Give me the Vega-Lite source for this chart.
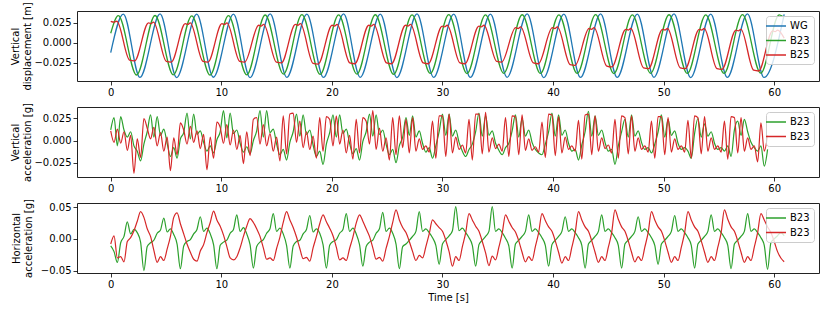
{
"$schema": "https://vega.github.io/schema/vega-lite/v6.json",
"background": "white",
"padding": {"left": 10, "top": 1, "right": 6, "bottom": 6},
"spacing": 26,
"bounds": "flush",
"config": {
 "font": "DejaVu Sans",
 "view": {"stroke": "#222222", "strokeWidth": 1},
 "axis": {"labelFont": "DejaVu Sans", "labelFontSize": 10, "labelColor": "black", "titleFont": "DejaVu Sans", "titleFontSize": 10, "titleFontWeight": "normal", "titleColor": "black", "tickColor": "black", "tickSize": 4, "tickWidth": 0.8, "labelPadding": 2, "domain": false, "grid": false, "titleLineHeight": 12},
 "legend": {"orient": "top-right", "offset": 5, "title": null, "symbolType": "M-2,0H2", "symbolSize": 100, "symbolStrokeWidth": 1.5, "labelFont": "DejaVu Sans", "labelFontSize": 10, "labelColor": "black", "fillColor": "rgba(255,255,255,0.8)", "strokeColor": "#cccccc", "cornerRadius": 3, "padding": 4, "rowPadding": 3.5, "labelOffset": 8}
},
"datasets": {
"top": [
{"s":"WG","t":0,"v":-0.012},{"s":"WG","t":1.14,"v":0.036},{"s":"WG","t":2.64,"v":-0.043},{"s":"WG","t":4.46,"v":0.0362},{"s":"WG","t":5.96,"v":-0.0432},{"s":"WG","t":7.78,"v":0.0358},{"s":"WG","t":9.28,"v":-0.0428},{"s":"WG","t":11.1,"v":0.036},{"s":"WG","t":12.6,"v":-0.0433},{"s":"WG","t":14.42,"v":0.0362},{"s":"WG","t":15.92,"v":-0.043},{"s":"WG","t":17.74,"v":0.0359},{"s":"WG","t":19.24,"v":-0.0431},{"s":"WG","t":21.06,"v":0.0361},{"s":"WG","t":22.56,"v":-0.0429},{"s":"WG","t":24.38,"v":0.036},{"s":"WG","t":25.88,"v":-0.0432},{"s":"WG","t":27.7,"v":0.0362},{"s":"WG","t":29.2,"v":-0.043},{"s":"WG","t":31.02,"v":0.0358},{"s":"WG","t":32.52,"v":-0.0431},{"s":"WG","t":34.34,"v":0.036},{"s":"WG","t":35.84,"v":-0.0429},{"s":"WG","t":37.66,"v":0.0361},{"s":"WG","t":39.16,"v":-0.0432},{"s":"WG","t":40.98,"v":0.0359},{"s":"WG","t":42.48,"v":-0.043},{"s":"WG","t":44.3,"v":0.0361},{"s":"WG","t":45.8,"v":-0.0431},{"s":"WG","t":47.62,"v":0.036},{"s":"WG","t":49.12,"v":-0.0429},{"s":"WG","t":50.94,"v":0.0362},{"s":"WG","t":52.44,"v":-0.0432},{"s":"WG","t":54.26,"v":0.0359},{"s":"WG","t":55.76,"v":-0.043},{"s":"WG","t":57.58,"v":0.0361},{"s":"WG","t":59.08,"v":-0.0431},{"s":"WG","t":60.9,"v":0.0355},
{"s":"B23","t":0,"v":0.012},{"s":"B23","t":0.69,"v":0.034},{"s":"B23","t":2.34,"v":-0.04},{"s":"B23","t":4.01,"v":0.0342},{"s":"B23","t":5.66,"v":-0.0398},{"s":"B23","t":7.33,"v":0.0338},{"s":"B23","t":8.98,"v":-0.0401},{"s":"B23","t":10.65,"v":0.0341},{"s":"B23","t":12.3,"v":-0.0399},{"s":"B23","t":13.97,"v":0.0348},{"s":"B23","t":15.62,"v":-0.039},{"s":"B23","t":17.29,"v":0.0352},{"s":"B23","t":18.94,"v":-0.0392},{"s":"B23","t":20.61,"v":0.0349},{"s":"B23","t":22.26,"v":-0.0389},{"s":"B23","t":23.93,"v":0.0351},{"s":"B23","t":25.58,"v":-0.0391},{"s":"B23","t":27.25,"v":0.035},{"s":"B23","t":28.9,"v":-0.038},{"s":"B23","t":30.57,"v":0.0352},{"s":"B23","t":32.22,"v":-0.0382},{"s":"B23","t":33.89,"v":0.0349},{"s":"B23","t":35.54,"v":-0.0379},{"s":"B23","t":37.21,"v":0.0351},{"s":"B23","t":38.86,"v":-0.0381},{"s":"B23","t":40.53,"v":0.035},{"s":"B23","t":42.18,"v":-0.038},{"s":"B23","t":43.85,"v":0.0352},{"s":"B23","t":45.5,"v":-0.0382},{"s":"B23","t":47.17,"v":0.0349},{"s":"B23","t":48.82,"v":-0.0379},{"s":"B23","t":50.49,"v":0.0351},{"s":"B23","t":52.14,"v":-0.0381},{"s":"B23","t":53.81,"v":0.035},{"s":"B23","t":55.46,"v":-0.038},{"s":"B23","t":57.13,"v":0.0352},{"s":"B23","t":58.78,"v":-0.0378},{"s":"B23","t":60.45,"v":0.035},{"s":"B23","t":60.9,"v":0.032},
{"s":"B25","t":0,"v":0.027},{"s":"B25","t":0.32,"v":0.026},{"s":"B25","t":0.55,"v":0.027},{"s":"B25","t":1.7,"v":-0.0215},{"s":"B25","t":2.15,"v":-0.0225},
{"s":"B25","t":3.42,"v":0.025},{"s":"B25","t":3.64,"v":0.024},{"s":"B25","t":3.87,"v":0.026},{"s":"B25","t":5.02,"v":-0.023},{"s":"B25","t":5.47,"v":-0.024},
{"s":"B25","t":6.74,"v":0.024},{"s":"B25","t":6.96,"v":0.023},{"s":"B25","t":7.19,"v":0.025},{"s":"B25","t":8.34,"v":-0.023},{"s":"B25","t":8.79,"v":-0.024},
{"s":"B25","t":10.06,"v":0.024},{"s":"B25","t":10.28,"v":0.023},{"s":"B25","t":10.51,"v":0.025},{"s":"B25","t":11.66,"v":-0.023},{"s":"B25","t":12.11,"v":-0.024},
{"s":"B25","t":13.38,"v":0.022},{"s":"B25","t":13.6,"v":0.021},{"s":"B25","t":13.83,"v":0.023},{"s":"B25","t":14.98,"v":-0.024},{"s":"B25","t":15.43,"v":-0.025},
{"s":"B25","t":16.7,"v":0.023},{"s":"B25","t":16.92,"v":0.022},{"s":"B25","t":17.15,"v":0.024},{"s":"B25","t":18.3,"v":-0.0255},{"s":"B25","t":18.75,"v":-0.0265},
{"s":"B25","t":20.02,"v":0.022},{"s":"B25","t":20.24,"v":0.021},{"s":"B25","t":20.47,"v":0.023},{"s":"B25","t":21.62,"v":-0.025},{"s":"B25","t":22.07,"v":-0.026},
{"s":"B25","t":23.34,"v":0.022},{"s":"B25","t":23.56,"v":0.021},{"s":"B25","t":23.79,"v":0.023},{"s":"B25","t":24.94,"v":-0.025},{"s":"B25","t":25.39,"v":-0.026},
{"s":"B25","t":26.66,"v":0.022},{"s":"B25","t":26.88,"v":0.021},{"s":"B25","t":27.11,"v":0.023},{"s":"B25","t":28.26,"v":-0.025},{"s":"B25","t":28.71,"v":-0.026},
{"s":"B25","t":29.98,"v":0.021},{"s":"B25","t":30.2,"v":0.02},{"s":"B25","t":30.43,"v":0.022},{"s":"B25","t":31.58,"v":-0.025},{"s":"B25","t":32.03,"v":-0.026},
{"s":"B25","t":33.3,"v":0.021},{"s":"B25","t":33.52,"v":0.02},{"s":"B25","t":33.75,"v":0.022},{"s":"B25","t":34.9,"v":-0.023},{"s":"B25","t":35.35,"v":-0.024},
{"s":"B25","t":36.62,"v":0.019},{"s":"B25","t":36.84,"v":0.018},{"s":"B25","t":37.07,"v":0.02},{"s":"B25","t":38.22,"v":-0.025},{"s":"B25","t":38.67,"v":-0.026},
{"s":"B25","t":39.94,"v":0.019},{"s":"B25","t":40.16,"v":0.018},{"s":"B25","t":40.39,"v":0.02},{"s":"B25","t":41.54,"v":-0.027},{"s":"B25","t":41.99,"v":-0.028},
{"s":"B25","t":43.26,"v":0.018},{"s":"B25","t":43.48,"v":0.017},{"s":"B25","t":43.71,"v":0.019},{"s":"B25","t":44.86,"v":-0.029},{"s":"B25","t":45.31,"v":-0.03},
{"s":"B25","t":46.58,"v":0.017},{"s":"B25","t":46.8,"v":0.016},{"s":"B25","t":47.03,"v":0.018},{"s":"B25","t":48.18,"v":-0.031},{"s":"B25","t":48.63,"v":-0.032},
{"s":"B25","t":49.9,"v":0.017},{"s":"B25","t":50.12,"v":0.016},{"s":"B25","t":50.35,"v":0.018},{"s":"B25","t":51.5,"v":-0.031},{"s":"B25","t":51.95,"v":-0.032},
{"s":"B25","t":53.22,"v":0.017},{"s":"B25","t":53.44,"v":0.016},{"s":"B25","t":53.67,"v":0.018},{"s":"B25","t":54.82,"v":-0.032},{"s":"B25","t":55.27,"v":-0.033},
{"s":"B25","t":56.54,"v":0.016},{"s":"B25","t":56.76,"v":0.015},{"s":"B25","t":56.99,"v":0.017},{"s":"B25","t":58.14,"v":-0.034},{"s":"B25","t":58.59,"v":-0.035},
{"s":"B25","t":59.86,"v":0.015},{"s":"B25","t":60.08,"v":0.014},{"s":"B25","t":60.31,"v":0.016},{"s":"B25","t":60.9,"v":0.006}
],
"acc": [
{"t":0,"a":0.012,"b":0.011,"c":-0.011,"d":-0.008},
{"t":0.3,"a":0.026,"b":-0.002,"c":-0.02,"d":0.005},
{"t":0.6,"a":-0.006,"b":0.013,"c":-0.037,"d":-0.03},
{"t":0.9,"a":0.027,"b":-0.003,"c":-0.006,"d":-0.028},
{"t":1.2,"a":0.012,"b":0.01,"c":0.004,"d":-0.036},
{"t":1.5,"a":0.004,"b":-0.011,"c":0.027,"d":-0.004},
{"t":1.8,"a":0.01,"b":0.006,"c":0.008,"d":0.002},
{"t":2.1,"a":-0.006,"b":-0.037,"c":0.015,"d":0.013},
{"t":2.4,"a":-0.012,"b":0.002,"c":0.01,"d":0.028},
{"t":2.7,"a":-0.023,"b":-0.019,"c":-0.005,"d":0.043},
{"t":3,"a":-0.004,"b":0.025,"c":-0.05,"d":0.034},
{"t":3.3,"a":0.01,"b":0.014,"c":-0.012,"d":0.016},
{"t":3.6,"a":0.029,"b":0.002,"c":-0.006,"d":0.004},
{"t":3.9,"a":0.004,"b":0.015,"c":-0.002,"d":-0.018},
{"t":4.2,"a":0.027,"b":-0.006,"c":0.009,"d":-0.037},
{"t":4.5,"a":0.006,"b":0.009,"c":0.014,"d":-0.028},
{"t":4.8,"a":0.013,"b":-0.012,"c":0.033,"d":-0.034},
{"t":5.1,"a":-0.003,"b":0.004,"c":0.011,"d":-0.016},
{"t":5.4,"a":-0.018,"b":-0.034,"c":0.016,"d":0.004},
{"t":5.7,"a":-0.008,"b":0.003,"c":0.007,"d":0.034},
{"t":6,"a":-0.02,"b":-0.016,"c":-0.008,"d":0.041},
{"t":6.3,"a":0.002,"b":0.02,"c":-0.047,"d":0.024},
{"t":6.6,"a":0.009,"b":0.012,"c":-0.011,"d":0.008},
{"t":6.9,"a":0.031,"b":-0.004,"c":-0.004,"d":-0.008},
{"t":7.2,"a":0.002,"b":0.016,"c":-0.001,"d":-0.021},
{"t":7.5,"a":0.03,"b":-0.002,"c":0.008,"d":-0.032},
{"t":7.8,"a":0.007,"b":0.011,"c":0.015,"d":-0.035},
{"t":8.1,"a":0.011,"b":-0.009,"c":0.035,"d":-0.019},
{"t":8.4,"a":-0.002,"b":0.007,"c":0.012,"d":-0.009},
{"t":8.7,"a":-0.012,"b":-0.033,"c":0.017,"d":0.01},
{"t":9,"a":-0.006,"b":0.004,"c":0.008,"d":0.026},
{"t":9.3,"a":-0.014,"b":-0.02,"c":-0.009,"d":0.044},
{"t":9.6,"a":0.001,"b":0.021,"c":-0.047,"d":0.03},
{"t":9.9,"a":0.01,"b":0.015,"c":-0.01,"d":0.02},
{"t":10.2,"a":0.034,"b":-0.003,"c":-0.005,"d":0.006},
{"t":10.5,"a":0.003,"b":0.018,"c":-0.002,"d":-0.012},
{"t":10.8,"a":0.031,"b":-0.005,"c":0.009,"d":-0.03},
{"t":11.1,"a":0.008,"b":0.012,"c":0.015,"d":-0.033},
{"t":11.4,"a":0.012,"b":-0.01,"c":0.038,"d":-0.028},
{"t":11.7,"a":-0.003,"b":0.006,"c":0.012,"d":-0.014},
{"t":12,"a":-0.013,"b":-0.026,"c":0.018,"d":0.004},
{"t":12.3,"a":-0.007,"b":0.01,"c":0.008,"d":0.02},
{"t":12.6,"a":-0.015,"b":-0.017,"c":-0.009,"d":0.032},
{"t":12.9,"a":0,"b":0.024,"c":-0.046,"d":0.026},
{"t":13.2,"a":0.011,"b":0.026,"c":-0.012,"d":0.016},
{"t":13.5,"a":0.034,"b":-0.004,"c":-0.005,"d":0.004},
{"t":13.8,"a":0.004,"b":0.018,"c":-0.001,"d":-0.014},
{"t":14.1,"a":0.034,"b":-0.006,"c":0.009,"d":-0.032},
{"t":14.4,"a":0.009,"b":0.008,"c":0.016,"d":-0.03},
{"t":14.7,"a":0.013,"b":-0.012,"c":0.04,"d":-0.034},
{"t":15,"a":-0.004,"b":0.004,"c":0.012,"d":-0.015},
{"t":15.3,"a":-0.016,"b":-0.023,"c":0.017,"d":0.003},
{"t":15.6,"a":-0.01,"b":0.028,"c":0.008,"d":0.026},
{"t":15.9,"a":-0.022,"b":-0.015,"c":-0.01,"d":0.043},
{"t":16.2,"a":-0.002,"b":0.03,"c":-0.046,"d":0.03},
{"t":16.5,"a":0.01,"b":0.031,"c":-0.011,"d":0.018},
{"t":16.8,"a":0.03,"b":-0.002,"c":-0.004,"d":0.003},
{"t":17.1,"a":0.005,"b":0.022,"c":-0.002,"d":-0.015},
{"t":17.4,"a":0.029,"b":-0.008,"c":0.008,"d":-0.031},
{"t":17.7,"a":0.007,"b":0.01,"c":0.015,"d":-0.029},
{"t":18,"a":0.012,"b":-0.01,"c":0.037,"d":-0.035},
{"t":18.3,"a":-0.005,"b":0.005,"c":0.011,"d":-0.014},
{"t":18.6,"a":-0.018,"b":-0.02,"c":0.016,"d":0.004},
{"t":18.9,"a":-0.012,"b":0.026,"c":0.009,"d":0.024},
{"t":19.2,"a":-0.027,"b":-0.012,"c":-0.009,"d":0.038},
{"t":19.5,"a":-0.004,"b":0.027,"c":-0.046,"d":0.027},
{"t":19.8,"a":0.009,"b":0.024,"c":-0.01,"d":0.017},
{"t":20.1,"a":0.029,"b":-0.006,"c":-0.004,"d":0.005},
{"t":20.4,"a":0.004,"b":0.028,"c":-0.001,"d":-0.013},
{"t":20.7,"a":0.029,"b":-0.004,"c":0.009,"d":-0.033},
{"t":21,"a":0.008,"b":0.012,"c":0.015,"d":-0.03},
{"t":21.3,"a":0.013,"b":-0.014,"c":0.04,"d":-0.034},
{"t":21.6,"a":-0.003,"b":0.006,"c":0.012,"d":-0.015},
{"t":21.9,"a":-0.015,"b":-0.021,"c":0.017,"d":0.003},
{"t":22.2,"a":-0.009,"b":0.024,"c":0.008,"d":0.025},
{"t":22.5,"a":-0.022,"b":-0.014,"c":-0.009,"d":0.038},
{"t":22.8,"a":-0.001,"b":0.026,"c":-0.043,"d":0.028},
{"t":23.1,"a":0.01,"b":0.022,"c":-0.012,"d":0.016},
{"t":23.4,"a":0.03,"b":-0.004,"c":-0.005,"d":0.004},
{"t":23.7,"a":0.005,"b":0.034,"c":-0.002,"d":-0.014},
{"t":24,"a":0.029,"b":-0.01,"c":0.009,"d":-0.032},
{"t":24.3,"a":0.007,"b":0.014,"c":0.016,"d":-0.029},
{"t":24.6,"a":0.012,"b":-0.012,"c":0.042,"d":-0.035},
{"t":24.9,"a":-0.004,"b":0.003,"c":0.012,"d":-0.015},
{"t":25.2,"a":-0.016,"b":-0.022,"c":0.017,"d":0.004},
{"t":25.5,"a":-0.01,"b":0.026,"c":0.009,"d":0.026},
{"t":25.8,"a":-0.025,"b":-0.016,"c":-0.008,"d":0.046},
{"t":26.1,"a":-0.006,"b":0.028,"c":-0.047,"d":0.03},
{"t":26.4,"a":0.004,"b":-0.008,"c":-0.012,"d":0.018},
{"t":26.7,"a":0.026,"b":0.024,"c":-0.008,"d":0.01},
{"t":27,"a":0.006,"b":-0.014,"c":-0.002,"d":-0.004},
{"t":27.3,"a":0.028,"b":0.026,"c":0.004,"d":-0.02},
{"t":27.6,"a":0.004,"b":-0.012,"c":0.012,"d":-0.034},
{"t":27.9,"a":0.011,"b":0.002,"c":0.043,"d":-0.026},
{"t":28.2,"a":-0.003,"b":-0.01,"c":0.012,"d":-0.03},
{"t":28.5,"a":-0.013,"b":-0.006,"c":0.016,"d":-0.012},
{"t":28.8,"a":-0.008,"b":-0.013,"c":0.01,"d":0.008},
{"t":29.1,"a":-0.02,"b":0.022,"c":0.002,"d":0.03},
{"t":29.4,"a":-0.006,"b":-0.02,"c":-0.01,"d":0.024},
{"t":29.7,"a":0.01,"b":0.028,"c":-0.04,"d":0.018},
{"t":30,"a":0.03,"b":0.028,"c":-0.008,"d":0.012},
{"t":30.3,"a":0.006,"b":-0.018,"c":-0.001,"d":-0.002},
{"t":30.6,"a":0.03,"b":0.03,"c":0.005,"d":-0.02},
{"t":30.9,"a":0.005,"b":-0.014,"c":0.013,"d":-0.043},
{"t":31.2,"a":0.012,"b":0.004,"c":0.051,"d":-0.028},
{"t":31.5,"a":-0.002,"b":-0.01,"c":0.013,"d":-0.034},
{"t":31.8,"a":-0.012,"b":-0.005,"c":0.017,"d":-0.012},
{"t":32.1,"a":-0.018,"b":-0.014,"c":0.01,"d":0.01},
{"t":32.4,"a":-0.01,"b":0.024,"c":0.002,"d":0.04},
{"t":32.7,"a":-0.004,"b":-0.022,"c":-0.01,"d":0.03},
{"t":33,"a":0.01,"b":0.03,"c":-0.043,"d":0.02},
{"t":33.3,"a":0.031,"b":0.03,"c":-0.009,"d":0.012},
{"t":33.6,"a":0.005,"b":-0.015,"c":-0.002,"d":-0.004},
{"t":33.9,"a":0.028,"b":0.032,"c":0.004,"d":-0.022},
{"t":34.2,"a":0.006,"b":-0.013,"c":0.012,"d":-0.042},
{"t":34.5,"a":0.011,"b":0.003,"c":0.051,"d":-0.027},
{"t":34.8,"a":-0.003,"b":-0.009,"c":0.012,"d":-0.033},
{"t":35.1,"a":-0.011,"b":-0.004,"c":0.016,"d":-0.013},
{"t":35.4,"a":-0.016,"b":-0.012,"c":0.01,"d":0.009},
{"t":35.7,"a":-0.008,"b":0.026,"c":0.001,"d":0.038},
{"t":36,"a":-0.003,"b":-0.018,"c":-0.011,"d":0.028},
{"t":36.3,"a":0.011,"b":0.028,"c":-0.046,"d":0.018},
{"t":36.6,"a":0.029,"b":0.027,"c":-0.008,"d":0.011},
{"t":36.9,"a":0.004,"b":-0.016,"c":-0.002,"d":-0.003},
{"t":37.2,"a":0.025,"b":0.029,"c":0.004,"d":-0.021},
{"t":37.5,"a":0.005,"b":-0.011,"c":0.012,"d":-0.036},
{"t":37.8,"a":0.012,"b":0.002,"c":0.038,"d":-0.028},
{"t":38.1,"a":-0.002,"b":-0.011,"c":0.012,"d":-0.034},
{"t":38.4,"a":-0.01,"b":-0.007,"c":0.016,"d":-0.012},
{"t":38.7,"a":-0.014,"b":-0.013,"c":0.01,"d":0.01},
{"t":39,"a":-0.016,"b":0.021,"c":0.002,"d":0.04},
{"t":39.3,"a":-0.004,"b":-0.019,"c":-0.01,"d":0.029},
{"t":39.6,"a":0.01,"b":0.03,"c":-0.043,"d":0.019},
{"t":39.9,"a":0.031,"b":0.029,"c":-0.009,"d":0.012},
{"t":40.2,"a":0.005,"b":-0.017,"c":-0.002,"d":-0.003},
{"t":40.5,"a":0.029,"b":0.027,"c":0.004,"d":-0.021},
{"t":40.8,"a":0.006,"b":-0.014,"c":0.012,"d":-0.038},
{"t":41.1,"a":0.012,"b":0.004,"c":0.035,"d":-0.028},
{"t":41.4,"a":-0.003,"b":-0.01,"c":0.012,"d":-0.034},
{"t":41.7,"a":-0.012,"b":-0.006,"c":0.016,"d":-0.013},
{"t":42,"a":-0.01,"b":-0.012,"c":0.01,"d":0.01},
{"t":42.3,"a":-0.022,"b":0.023,"c":0.002,"d":0.043},
{"t":42.6,"a":-0.005,"b":-0.021,"c":-0.01,"d":0.03},
{"t":42.9,"a":0.01,"b":0.029,"c":-0.046,"d":0.019},
{"t":43.2,"a":0.033,"b":0.03,"c":-0.008,"d":0.012},
{"t":43.5,"a":0.005,"b":-0.016,"c":-0.002,"d":-0.003},
{"t":43.8,"a":0.028,"b":0.028,"c":0.004,"d":-0.021},
{"t":44.1,"a":0.006,"b":-0.012,"c":0.012,"d":-0.037},
{"t":44.4,"a":0.012,"b":0.003,"c":0.038,"d":-0.028},
{"t":44.7,"a":-0.002,"b":-0.009,"c":0.012,"d":-0.034},
{"t":45,"a":-0.012,"b":-0.005,"c":0.016,"d":-0.013},
{"t":45.3,"a":-0.01,"b":-0.014,"c":0.01,"d":0.01},
{"t":45.6,"a":-0.027,"b":0.024,"c":0.002,"d":0.046},
{"t":45.9,"a":-0.006,"b":-0.02,"c":-0.01,"d":0.031},
{"t":46.2,"a":0.01,"b":0.028,"c":-0.046,"d":0.019},
{"t":46.5,"a":0.024,"b":0.026,"c":-0.008,"d":0.012},
{"t":46.8,"a":0.004,"b":-0.015,"c":-0.002,"d":-0.003},
{"t":47.1,"a":0.029,"b":0.028,"c":0.004,"d":-0.021},
{"t":47.4,"a":0.005,"b":-0.012,"c":0.012,"d":-0.036},
{"t":47.7,"a":0.011,"b":0.003,"c":0.035,"d":-0.028},
{"t":48,"a":-0.002,"b":-0.01,"c":0.012,"d":-0.034},
{"t":48.3,"a":-0.01,"b":-0.006,"c":0.016,"d":-0.013},
{"t":48.6,"a":-0.008,"b":-0.013,"c":0.01,"d":0.01},
{"t":48.9,"a":-0.014,"b":0.022,"c":0.002,"d":0.043},
{"t":49.2,"a":-0.004,"b":-0.02,"c":-0.01,"d":0.03},
{"t":49.5,"a":0.01,"b":0.027,"c":-0.04,"d":0.019},
{"t":49.8,"a":0.029,"b":0.027,"c":-0.008,"d":0.012},
{"t":50.1,"a":0.004,"b":-0.016,"c":-0.002,"d":-0.003},
{"t":50.4,"a":0.024,"b":0.026,"c":0.004,"d":-0.021},
{"t":50.7,"a":0.006,"b":-0.013,"c":0.012,"d":-0.037},
{"t":51,"a":0.011,"b":0.002,"c":0.037,"d":-0.028},
{"t":51.3,"a":-0.003,"b":-0.01,"c":0.012,"d":-0.034},
{"t":51.6,"a":-0.01,"b":-0.006,"c":0.016,"d":-0.013},
{"t":51.9,"a":-0.008,"b":-0.013,"c":0.01,"d":0.01},
{"t":52.2,"a":-0.012,"b":0.023,"c":0.002,"d":0.043},
{"t":52.5,"a":-0.02,"b":-0.02,"c":-0.01,"d":0.03},
{"t":52.8,"a":0.008,"b":0.028,"c":-0.046,"d":0.019},
{"t":53.1,"a":0.025,"b":0.026,"c":-0.008,"d":0.012},
{"t":53.4,"a":0.004,"b":-0.015,"c":-0.002,"d":-0.003},
{"t":53.7,"a":0.019,"b":0.027,"c":0.004,"d":-0.021},
{"t":54,"a":0.005,"b":-0.012,"c":0.012,"d":-0.037},
{"t":54.3,"a":0.01,"b":0.003,"c":0.038,"d":-0.028},
{"t":54.6,"a":-0.003,"b":-0.01,"c":0.012,"d":-0.034},
{"t":54.9,"a":-0.01,"b":-0.006,"c":0.016,"d":-0.013},
{"t":55.2,"a":-0.008,"b":-0.013,"c":0.01,"d":0.01},
{"t":55.5,"a":-0.012,"b":0.022,"c":0.002,"d":0.046},
{"t":55.8,"a":-0.006,"b":-0.021,"c":-0.01,"d":0.031},
{"t":56.1,"a":-0.018,"b":0.027,"c":-0.047,"d":0.019},
{"t":56.4,"a":0.012,"b":0.026,"c":-0.008,"d":0.012},
{"t":56.7,"a":0.022,"b":-0.014,"c":-0.002,"d":-0.003},
{"t":57,"a":0.006,"b":0.026,"c":0.004,"d":-0.021},
{"t":57.3,"a":0.024,"b":-0.012,"c":0.012,"d":-0.037},
{"t":57.6,"a":0.01,"b":0.003,"c":0.04,"d":-0.028},
{"t":57.9,"a":-0.002,"b":-0.01,"c":0.012,"d":-0.034},
{"t":58.2,"a":-0.008,"b":-0.006,"c":0.016,"d":-0.013},
{"t":58.5,"a":-0.012,"b":-0.024,"c":0.01,"d":0.01},
{"t":58.8,"a":-0.006,"b":0.02,"c":0.002,"d":0.04},
{"t":59.1,"a":-0.029,"b":-0.012,"c":-0.01,"d":0.03},
{"t":59.4,"a":-0.01,"b":0.006,"c":-0.048,"d":0.019},
{"t":59.7,"c":-0.006,"d":0.01},
{"t":60,"c":0,"d":-0.004},
{"t":60.3,"c":0.005,"d":-0.02},
{"t":60.6,"c":0.01,"d":-0.03},
{"t":60.9,"c":0.005,"d":-0.036}
]
},
"vconcat": [
{
 "width": 742, "height": 70,
 "data": {"name": "top"},
 "mark": {"type": "line", "strokeWidth": 1.3, "interpolate": "monotone"},
 "encoding": {
  "x": {"field": "t", "type": "quantitative", "scale": {"domain": [-3.05, 64.05], "nice": false, "zero": false}, "axis": {"values": [0,10,20,30,40,50,60], "title": null}},
  "y": {"field": "v", "type": "quantitative", "scale": {"domain": [-0.0475, 0.0398], "nice": false, "zero": false}, "axis": {"values": [-0.025, 0, 0.025], "format": ".3f", "title": ["Vertical", "displacement [m]"], "titlePadding": 1}},
  "color": {"field": "s", "type": "nominal", "scale": {"domain": ["WG", "B23", "B25"], "range": ["#1f77b4", "#2ca02c", "#d62728"]}, "legend": {}}
 }
},
{
 "width": 742, "height": 70,
 "data": {"name": "acc"},
 "transform": [{"fold": ["a", "b"], "as": ["s", "v"]}],
 "mark": {"type": "line", "strokeWidth": 1.2, "interpolate": "monotone"},
 "encoding": {
  "x": {"field": "t", "type": "quantitative", "scale": {"domain": [-3.05, 64.05], "nice": false, "zero": false}, "axis": {"values": [0,10,20,30,40,50,60], "title": null}},
  "y": {"field": "v", "type": "quantitative", "scale": {"domain": [-0.0412, 0.038], "nice": false, "zero": false}, "axis": {"values": [-0.025, 0, 0.025], "format": ".3f", "title": ["Vertical", "acceleration [g]"], "titlePadding": 1}},
  "color": {"field": "s", "type": "nominal", "scale": {"domain": ["a", "b"], "range": ["#2ca02c", "#d62728"]}, "legend": {"labelExpr": "'B23'"}}
 }
},
{
 "width": 742, "height": 70,
 "data": {"name": "acc"},
 "transform": [{"fold": ["c", "d"], "as": ["s", "v"]}],
 "mark": {"type": "line", "strokeWidth": 1.2, "interpolate": "monotone"},
 "encoding": {
  "x": {"field": "t", "type": "quantitative", "scale": {"domain": [-3.05, 64.05], "nice": false, "zero": false}, "axis": {"values": [0,10,20,30,40,50,60], "title": "Time [s]", "titlePadding": 3}},
  "y": {"field": "v", "type": "quantitative", "scale": {"domain": [-0.0537, 0.0567], "nice": false, "zero": false}, "axis": {"values": [-0.05, 0, 0.05], "format": ".2f", "title": ["Horizontal", "acceleration [g]"], "titlePadding": 7}},
  "color": {"field": "s", "type": "nominal", "scale": {"domain": ["c", "d"], "range": ["#2ca02c", "#d62728"]}, "legend": {"labelExpr": "'B23'"}}
 }
}
],
"resolve": {"scale": {"color": "independent", "y": "independent"}, "legend": {"color": "independent"}}
}
